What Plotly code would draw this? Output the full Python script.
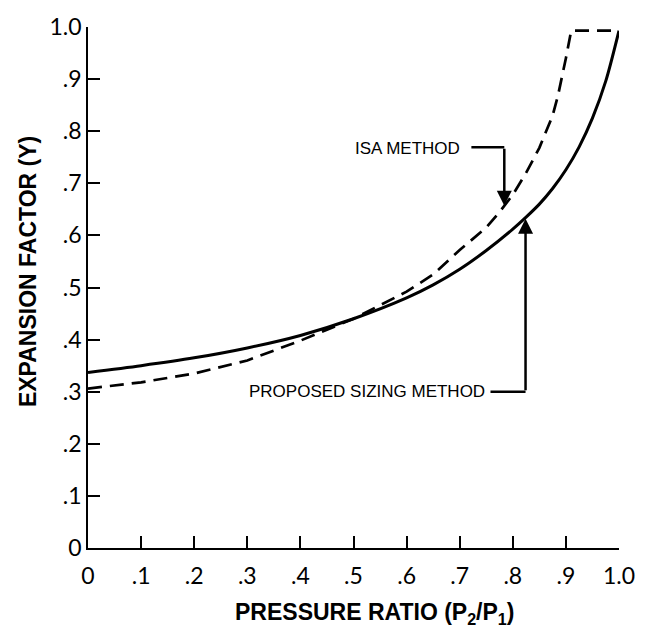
import plotly.graph_objects as go

# Proposed sizing method (solid)
ratio_proposed = [0.0, 0.1, 0.2, 0.3, 0.4, 0.5, 0.6, 0.65, 0.7, 0.75, 0.8, 0.825, 0.85, 0.875,
                  0.9, 0.925, 0.95, 0.975, 1.0]
y_proposed = [0.337, 0.350, 0.365, 0.384, 0.408, 0.440, 0.480, 0.505, 0.535, 0.571, 0.612, 0.635,
              0.660, 0.690, 0.726, 0.770, 0.825, 0.896, 0.993]

# ISA method (dashed)
ratio_isa = [0.0, 0.1, 0.2, 0.3, 0.4, 0.5, 0.6, 0.65, 0.7, 0.75, 0.775, 0.8, 0.825, 0.85, 0.875,
             0.885, 0.9, 0.91, 1.0]
y_isa = [0.306, 0.318, 0.335, 0.360, 0.398, 0.440, 0.492, 0.525, 0.572, 0.615, 0.645, 0.678,
         0.720, 0.768, 0.830, 0.868, 0.940, 0.993, 0.993]

tick_vals = [0, 0.1, 0.2, 0.3, 0.4, 0.5, 0.6, 0.7, 0.8, 0.9, 1.0]
tick_text = ["0", ".1", ".2", ".3", ".4", ".5", ".6", ".7", ".8", ".9", "1.0"]

fig = go.Figure()
fig.add_trace(go.Scatter(x=ratio_proposed, y=y_proposed, mode="lines",
                         line=dict(color="black", width=3, shape="spline", smoothing=0.8),
                         cliponaxis=False, name="PROPOSED SIZING METHOD"))
fig.add_trace(go.Scatter(x=ratio_isa, y=y_isa, mode="lines",
                         line=dict(color="black", width=2.7, dash="14px,8px"), cliponaxis=False,
                         name="ISA METHOD"))

tick_font = dict(family="Lato", size=23, color="black")
fig.update_xaxes(range=[0, 1], tickvals=tick_vals, ticktext=tick_text, ticks="inside",
                 ticklen=12, tickwidth=1.5, tickcolor="black", showline=True, linecolor="black",
                 linewidth=1.5, showgrid=False, zeroline=False, tickfont=tick_font,
                 ticklabelstandoff=7)
fig.update_yaxes(range=[0, 1], tickvals=tick_vals, ticktext=tick_text, ticks="inside",
                 ticklen=12, tickwidth=1.5, tickcolor="black", showline=True, linecolor="black",
                 linewidth=1.5, showgrid=False, zeroline=False, tickfont=tick_font,
                 ticklabelstandoff=0)

label_font = dict(family="Liberation Sans, Arial", size=17, color="black")
title_font = dict(family="Liberation Sans, Arial", size=23, color="black")

annotations = [
    dict(text="ISA METHOD", x=0.602, y=0.767, xref="x", yref="y", showarrow=False, font=label_font),
    dict(text="PROPOSED SIZING METHOD", x=0.526, y=0.300, xref="x", yref="y", showarrow=False, font=label_font),
    dict(text="", x=0.784, y=0.657, xref="x", yref="y", ax=0.784, ay=0.769, axref="x", ayref="y",
         showarrow=True, arrowhead=2, arrowsize=1.2, arrowwidth=2.5, arrowcolor="black"),
    dict(text="", x=0.824, y=0.632, xref="x", yref="y", ax=0.824, ay=0.300, axref="x", ayref="y",
         showarrow=True, arrowhead=2, arrowsize=1.2, arrowwidth=2.5, arrowcolor="black"),
    dict(text="<b>PRESSURE RATIO (P<sub>2</sub>/P<sub>1</sub>)</b>", x=0.54, y=-0.126,
         xref="paper", yref="paper", showarrow=False, font=title_font, xanchor="center", yanchor="middle"),
    dict(text="<b>EXPANSION FACTOR (Y)</b>", x=-0.1126, y=0.53, xref="paper", yref="paper",
         showarrow=False, font=title_font, textangle=-90, xanchor="center", yanchor="middle"),
]

shapes = [
    dict(type="line", x0=0.722, x1=0.784, y0=0.769, y1=0.769, xref="x", yref="y",
         line=dict(color="black", width=2.5)),
    dict(type="line", x0=0.758, x1=0.824, y0=0.300, y1=0.300, xref="x", yref="y",
         line=dict(color="black", width=2.5)),
]

fig.update_layout(width=647, height=630, margin=dict(l=88, r=26, t=15, b=82),
                  plot_bgcolor="white", paper_bgcolor="white", showlegend=False,
                  annotations=annotations, shapes=shapes)

fig.write_html("out.html")
